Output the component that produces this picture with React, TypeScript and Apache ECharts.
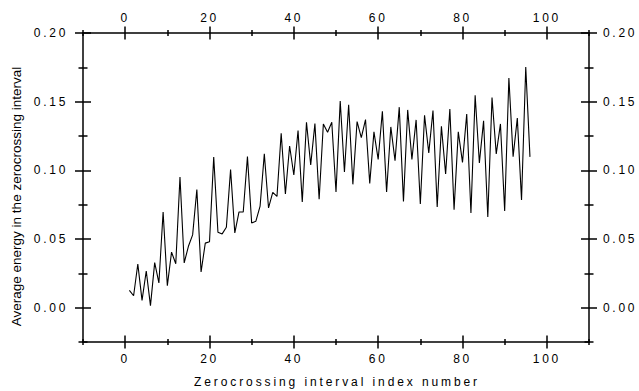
import React, { useEffect, useRef } from "react";
import * as echarts from "echarts";

const indexNumbers = [
  1, 2, 3, 4, 5, 6, 7, 8, 9, 10, 11, 12, 13, 14, 15, 16, 17, 18, 19, 20,
  21, 22, 23, 24, 25, 26, 27, 28, 29, 30, 31, 32, 33, 34, 35, 36, 37, 38, 39, 40,
  41, 42, 43, 44, 45, 46, 47, 48, 49, 50, 51, 52, 53, 54, 55, 56, 57, 58, 59, 60,
  61, 62, 63, 64, 65, 66, 67, 68, 69, 70, 71, 72, 73, 74, 75, 76, 77, 78, 79, 80,
  81, 82, 83, 84, 85, 86, 87, 88, 89, 90, 91, 92, 93, 94, 95, 96,
];

const averageEnergy = [
  0.0126, 0.0087, 0.0318, 0.0053, 0.0267, 0.0015, 0.0328, 0.018, 0.0697, 0.016,
  0.0404, 0.032, 0.0952, 0.0326, 0.0447, 0.053, 0.086, 0.026, 0.047, 0.048,
  0.1097, 0.055, 0.0537, 0.0585, 0.1005, 0.0544, 0.0697, 0.0697, 0.11, 0.0617,
  0.063, 0.074, 0.112, 0.0726, 0.084, 0.081, 0.127, 0.0828, 0.1177, 0.0966,
  0.129, 0.077, 0.135, 0.104, 0.134, 0.079, 0.1338, 0.1277, 0.135, 0.0842,
  0.1505, 0.0988, 0.1478, 0.0898, 0.1355, 0.1238, 0.137, 0.0905, 0.128, 0.108,
  0.143, 0.0842, 0.1316, 0.107, 0.146, 0.0774, 0.144, 0.108, 0.1367, 0.0755,
  0.14, 0.1127, 0.1435, 0.0733, 0.132, 0.0973, 0.1447, 0.0714, 0.128, 0.1058,
  0.141, 0.069, 0.1547, 0.1054, 0.136, 0.066, 0.153, 0.112, 0.1338, 0.0704,
  0.1673, 0.11, 0.138, 0.0784, 0.1753, 0.1098,
];

const xMajorTicks = [0, 20, 40, 60, 80, 100];
const xMinorTicks = [-10, 10, 30, 50, 70, 90, 110];
const yMajorTicks = [0, 0.05, 0.1, 0.15, 0.2];
const yMinorTicks = [-0.025, 0.025, 0.075, 0.125, 0.175];

const xTitle = "Zerocrossing interval index number";
const yTitle = "Average energy in the zerocrossing interval";

const FONT = "'Liberation Sans', Arial, Helvetica, sans-serif";

export default function App() {
  const ref = useRef<HTMLDivElement>(null);

  useEffect(() => {
    if (!ref.current) return;
    const chart = echarts.init(ref.current, null, { renderer: "svg" });

    const lineStyle = { color: "#000", width: 1.5 };
    const labelBase = { color: "#000", fontSize: 12, fontFamily: FONT };
    const noLine = { show: false, onZero: false };

    const xAxisBase = { type: "value", min: -10, max: 110, splitLine: { show: false }, axisLine: noLine };
    const yAxisBase = { type: "value", min: -0.025, max: 0.2, splitLine: { show: false }, axisLine: noLine };

    const xMajor = (position: string, margin: number) => ({
      ...xAxisBase,
      position,
      offset: 6.5,
      axisTick: { show: true, inside: true, length: 13, lineStyle, customValues: xMajorTicks },
      axisLabel: { ...labelBase, margin, customValues: xMajorTicks, formatter: (v: number) => String(v) },
    });
    const xMinor = (position: string) => ({
      ...xAxisBase,
      position,
      offset: 3,
      axisTick: { show: true, inside: true, length: 6, lineStyle, customValues: xMinorTicks },
      axisLabel: { show: false, customValues: xMinorTicks },
    });
    const xLine = (position: string) => ({
      ...xAxisBase,
      position,
      offset: 0,
      axisLine: { show: true, onZero: false, lineStyle },
      axisTick: { show: false },
      axisLabel: { show: false },
    });
    const yMajor = (position: string, margin: number) => ({
      ...yAxisBase,
      position,
      offset: 8,
      axisTick: { show: true, inside: true, length: 16, lineStyle, customValues: yMajorTicks },
      axisLabel: { ...labelBase, margin, customValues: yMajorTicks, formatter: (v: number) => v.toFixed(2) },
    });
    const yMinor = (position: string) => ({
      ...yAxisBase,
      position,
      offset: 4.5,
      axisTick: { show: true, inside: true, length: 9, lineStyle, customValues: yMinorTicks },
      axisLabel: { show: false, customValues: yMinorTicks },
    });
    const yLine = (position: string) => ({
      ...yAxisBase,
      position,
      offset: 0,
      axisLine: { show: true, onZero: false, lineStyle },
      axisTick: { show: false },
      axisLabel: { show: false },
    });

    chart.setOption({
      animation: false,
      backgroundColor: "#fff",
      grid: {
        left: 83,
        right: 50,
        top: 33,
        bottom: 49,
        containLabel: false,
      },
      xAxis: [
        xMajor("bottom", 4.5),
        xMinor("bottom"),
        xLine("bottom"),
        xMajor("top", 3),
        xMinor("top"),
        xLine("top"),
      ],
      yAxis: [
        yMajor("left", 7),
        yMinor("left"),
        yLine("left"),
        yMajor("right", 6),
        yMinor("right"),
        yLine("right"),
      ],
      graphic: [
        {
          type: "text",
          x: 337,
          y: 382,
          style: {
            text: xTitle,
            fill: "#000",
            font: `12px ${FONT}`,
            textAlign: "center",
            textVerticalAlign: "middle",
          },
        },
        {
          type: "text",
          x: 16.5,
          y: 196.5,
          rotation: Math.PI / 2,
          style: {
            text: yTitle,
            fill: "#000",
            font: `13.5px ${FONT}`,
            textAlign: "center",
            textVerticalAlign: "middle",
          },
        },
      ],
      series: [
        {
          type: "line",
          xAxisIndex: 0,
          yAxisIndex: 0,
          data: indexNumbers.map((x, i) => [x, averageEnergy[i]]),
          showSymbol: false,
          symbol: "none",
          lineStyle: { color: "#000", width: 1.1 },
        },
      ],
    });

    const spread = () => {
      const texts = ref.current?.querySelectorAll("text") || [];
      texts.forEach((t) => {
        const s = (t.textContent || "").trim();
        if (/^[-\d.]+$/.test(s)) t.setAttribute("letter-spacing", "2.7px");
        else if (s === xTitle) t.setAttribute("letter-spacing", "2.9px");
      });
    };
    spread();
    chart.on("finished", spread);

    return () => {
      chart.dispose();
    };
  }, []);

  return (
    <div
      ref={ref}
      style={{ position: "fixed", left: 0, top: 0, width: 639, height: 391, background: "#fff" }}
    />
  );
}
